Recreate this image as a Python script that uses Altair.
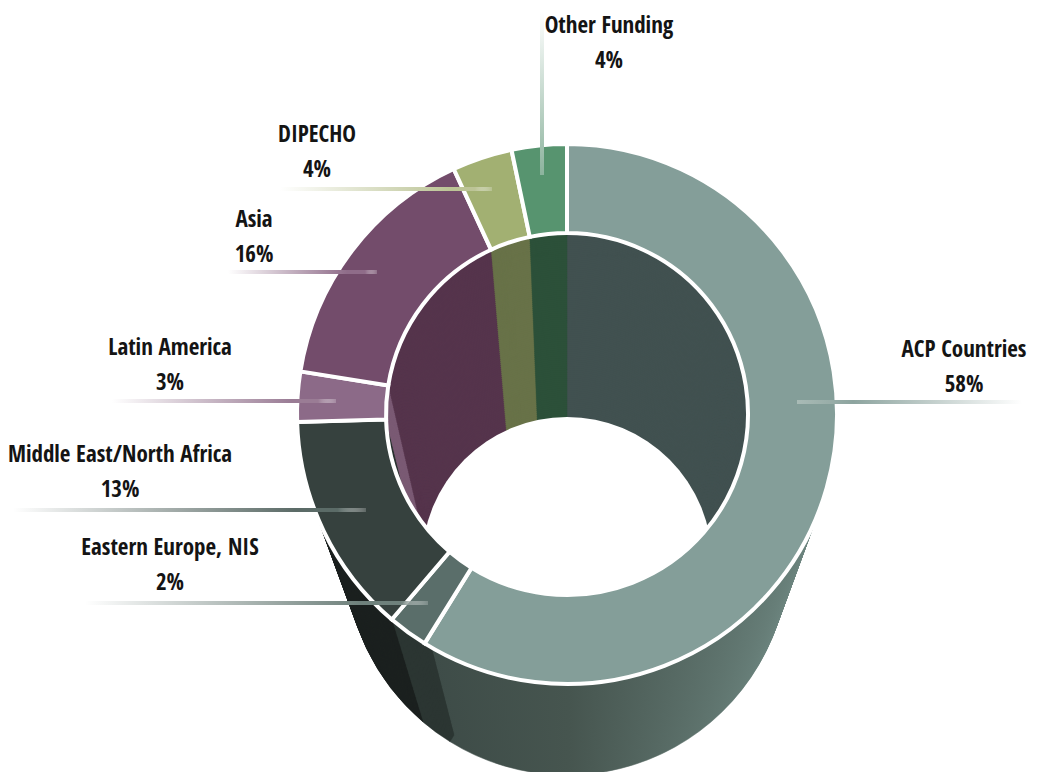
import altair as alt
import pandas as pd
import numpy as np

# ---------------- data ----------------
categories = ["ACP Countries", "Eastern Europe, NIS", "Middle East/North Africa",
              "Latin America", "Asia", "DIPECHO", "Other Funding"]
shares = [58.9, 2.4, 13.3, 3.0, 15.6, 3.6, 3.3]
share_labels = ["58%", "2%", "13%", "3%", "16%", "4%", "4%"]

# ---------------- styles ----------------
top_colors = ["#849e99", "#5a6e6a", "#36413e", "#8c6a88", "#734c6b", "#a2b072", "#57946f"]
inner_colors = ["#415150", "#3a4744", "#2a3230", "#7a5a74", "#55344c", "#687248", "#2c5039"]
side_colors = ["#4a5a56", "#2c3633", "#1b201f", "#5a4456", "#3e2a3a", "#555c38", "#24412f"]
line_colors = ["#8da49f", "#6f817c", "#5b6b67", "#9a7c95", "#8f6c89", "#bcc496", "#8cb39d"]

# ---------------- layout (chart px) ----------------
W, H = 1025, 764
CX = 559
TOP_CY, R_OUT, R_IN = 406, 270, 181
BOT_CY_OUT, BOT_R_OUT = 545, 222
BOT_CY_IN, BOT_R_IN = 554, 145
N = 90
SIDE_W = 8
FONT = "Open Sans Condensed, Noto Sans Condensed, Roboto Condensed, sans-serif"
FONT_WEIGHT = 300
FONT_SIZE = 23

# label layout: (center x, name baseline y)
label_pos = {
    "ACP Countries": (956, 349),
    "Eastern Europe, NIS": (162, 547),
    "Middle East/North Africa": (112, 454),
    "Latin America": (162, 347),
    "Asia": (246, 219),
    "DIPECHO": (309, 134),
    "Other Funding": (601, 25),
}
# leader lines: (x1, x2, y1, y2, fade side)
leader = {
    "ACP Countries": (789, 1014, 392, 396, "right"),
    "Eastern Europe, NIS": (77, 420, 593, 597, "left"),
    "Middle East/North Africa": (5, 358, 500, 504, "left"),
    "Latin America": (104, 328, 391, 395, "left"),
    "Asia": (220, 369, 262, 266, "left"),
    "DIPECHO": (272, 484, 179, 183, "left"),
    "Other Funding": (532, 536, 4, 167, "top"),
}


def stack_rows(steps, cy0, cy1, r0, r1, colors, width=None):
    rows = []
    for s in steps:
        t = s / N
        cy = cy0 + (cy1 - cy0) * t
        r = r0 + (r1 - r0) * t
        for k, (c, v) in enumerate(zip(categories, shares)):
            row = dict(step=s, cat=c, value=v, order=k, cy=cy, r=r, fillc=colors[k])
            row["r2"] = (r - width) if width is not None else 0
            rows.append(row)
    return pd.DataFrame(rows)


def stacked(df):
    return alt.Chart(df).transform_stack(
        stack="value", groupby=["step"], as_=["a0", "a1"], offset="normalize",
        sort=[alt.SortField("order", order="ascending")],
    )


theta_scale = alt.Scale(domain=[0, 1], range=[0, 2 * np.pi])

# inner wall (far side, seen through the hole)
inner_df = stack_rows(range(0, N + 1), TOP_CY, BOT_CY_IN, R_IN, BOT_R_IN, inner_colors)
inner = stacked(inner_df).mark_arc(strokeWidth=0.6).encode(
    x=alt.value(CX),
    y=alt.Y("cy:Q", scale=None, stack=None),
    theta=alt.Theta("a0:Q", scale=theta_scale, stack=None),
    theta2="a1:Q",
    radius=alt.Radius("r:Q", scale=None, stack=None),
    fill=alt.Fill("fillc:N", scale=None),
    stroke=alt.Stroke("fillc:N", scale=None),
)

hole = alt.Chart(pd.DataFrame({"k": [0]})).mark_arc(
    fill="white", theta=0, theta2=2 * np.pi, radius=BOT_R_IN
).encode(x=alt.value(CX), y=alt.value(BOT_CY_IN))

# outer side wall (lower half only)
side_df = stack_rows(range(N, -1, -1), TOP_CY, BOT_CY_OUT, R_OUT, BOT_R_OUT, side_colors, SIDE_W)
side_base = stacked(side_df).transform_calculate(
    b0="max(datum.a0, 0.25)", b1="min(datum.a1, 0.75)"
).transform_filter("datum.b1 > datum.b0")

side_enc = dict(
    x=alt.value(CX),
    y=alt.Y("cy:Q", scale=None, stack=None),
    theta=alt.Theta("b0:Q", scale=theta_scale, stack=None),
    theta2="b1:Q",
    radius=alt.Radius("r:Q", scale=None, stack=None),
    radius2="r2:Q",
)
acp_grad = alt.Gradient(
    gradient="linear", x1=0, x2=1, y1=0, y2=0,
    stops=[alt.GradientStop(color="#3e4c48", offset=0),
           alt.GradientStop(color="#46554f", offset=0.35),
           alt.GradientStop(color="#6e8781", offset=1)],
)
side_acp = side_base.transform_filter(f"datum.cat == '{categories[0]}'").mark_arc(
    fill=acp_grad, stroke=acp_grad, strokeWidth=0.6
).encode(**side_enc)
side_rest = side_base.transform_filter(f"datum.cat != '{categories[0]}'").mark_arc(
    strokeWidth=0.6
).encode(fill=alt.Fill("fillc:N", scale=None), stroke=alt.Stroke("fillc:N", scale=None), **side_enc)

# top face ring
top_df = pd.DataFrame(dict(step=0, cat=categories, value=shares, order=list(range(7)),
                           fillc=top_colors, label=share_labels))
top = stacked(top_df).mark_arc(stroke="white", strokeWidth=4, radius=R_OUT, radius2=R_IN).encode(
    x=alt.value(CX),
    y=alt.value(TOP_CY),
    theta=alt.Theta("a0:Q", scale=theta_scale, stack=None),
    theta2="a1:Q",
    fill=alt.Fill("fillc:N", scale=None),
    tooltip=["cat:N", "label:N"],
)

# leader lines
lines = []
for k, c in enumerate(categories):
    x1, x2, y1, y2, fade = leader[c]
    col = line_colors[k]
    if fade == "right":
        g = alt.Gradient(gradient="linear", x1=0, x2=1, y1=0, y2=0,
                         stops=[alt.GradientStop(color="#a9bbb6", offset=0),
                                alt.GradientStop(color=col, offset=0.25),
                                alt.GradientStop(color="#ffffff", offset=1)])
    elif fade == "left":
        g = alt.Gradient(gradient="linear", x1=0, x2=1, y1=0, y2=0,
                         stops=[alt.GradientStop(color="#ffffff", offset=0),
                                alt.GradientStop(color=col, offset=0.8),
                                alt.GradientStop(color=col, offset=0.92),
                                alt.GradientStop(color="rgba(255,255,255,0.2)", offset=1)])
    else:
        g = alt.Gradient(gradient="linear", x1=0, x2=0, y1=0, y2=1,
                         stops=[alt.GradientStop(color="#ffffff", offset=0),
                                alt.GradientStop(color=col, offset=1)])
    lines.append(
        alt.Chart(pd.DataFrame({"k": [0]})).mark_rect(fill=g).encode(
            x=alt.value(x1), x2=alt.value(x2), y=alt.value(y1), y2=alt.value(y2)
        )
    )

lab_df = pd.DataFrame(dict(
    name=categories, pct=share_labels,
    lx=[label_pos[c][0] for c in categories],
    ly=[label_pos[c][1] for c in categories],
))
names = alt.Chart(lab_df).mark_text(
    font=FONT, fontSize=FONT_SIZE, fontWeight=FONT_WEIGHT, color="#141414",
    align="center", baseline="alphabetic"
).encode(x=alt.X("lx:Q", scale=None), y=alt.Y("ly:Q", scale=None, stack=None), text="name:N")
pcts = alt.Chart(lab_df).transform_calculate(py="datum.ly + 35").mark_text(
    font=FONT, fontSize=FONT_SIZE, fontWeight=FONT_WEIGHT, color="#141414",
    align="center", baseline="alphabetic"
).encode(x=alt.X("lx:Q", scale=None), y=alt.Y("py:Q", scale=None, stack=None), text="pct:N")

chart = alt.layer(inner, hole, side_acp, side_rest, top, *lines, names, pcts).properties(
    width=W, height=H, padding=0, autosize="none"
).configure_view(stroke=None)

chart.save("out.html", embed_options={"renderer": "svg", "actions": False})
